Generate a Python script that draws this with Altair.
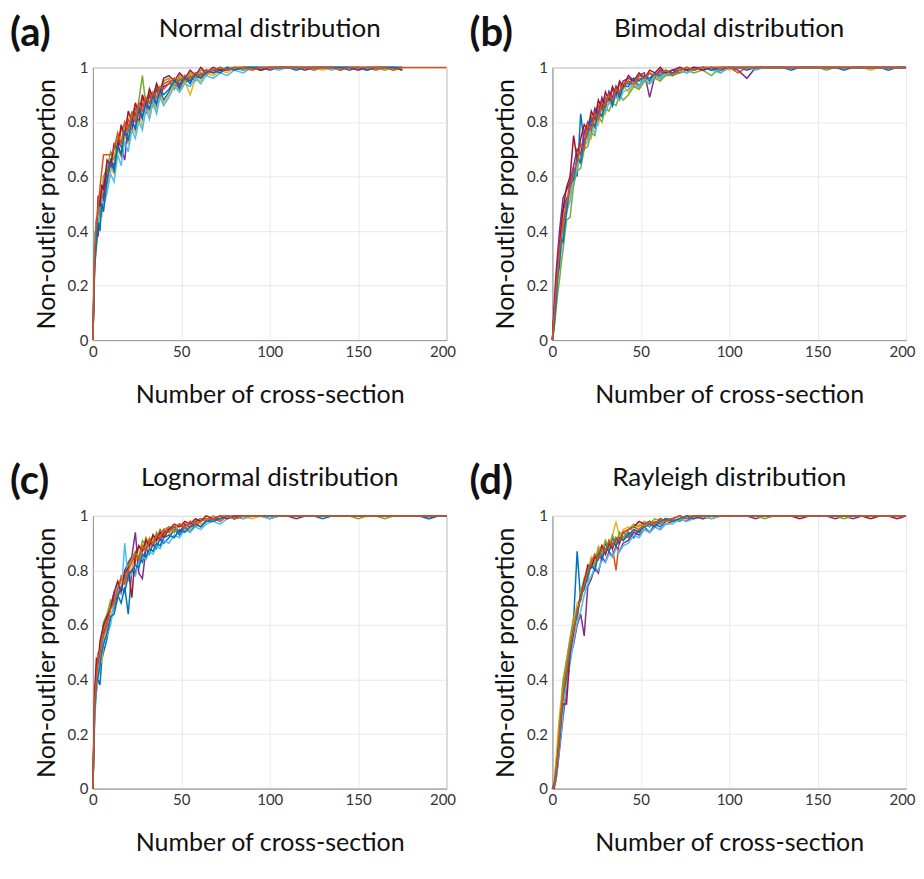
import altair as alt
import pandas as pd

N = None

# x positions (number of cross-sections) at which values were read
X = [0, 1, 2, 3, 4, 5, 6,
     8, 10, 12, 14, 16, 18, 20, 22, 24, 26, 28, 30, 32, 34, 36, 38, 40,
     43, 46, 49, 52, 55, 58, 61, 64,
     68, 72, 76, 80, 85, 90, 95, 100,
     105, 110, 115, 120, 125, 130, 135, 140, 145, 150,
     155, 160, 165, 170, 175, 180, 185, 190, 195, 200]

SERIES = ["s01", "s02", "s03", "s04", "s05", "s06", "s07", "s08", "s09"]
COLORS = ["#0072BD", "#D95319", "#EDB120", "#7E2F8E", "#77AC30",
          "#4DBEEE", "#A2142F", "#0072BD", "#D95319"]

TITLES = ["Normal distribution", "Bimodal distribution",
          "Lognormal distribution", "Rayleigh distribution"]
TAGS = ["(a)", "(b)", "(c)", "(d)"]
X_TICKS = [0, 50, 100, 150, 200]
Y_TICKS = [0, 0.2, 0.4, 0.6, 0.8, 1]

# ---------------- (a) Normal ----------------
A1 = [0, .36, .44, .41, .52, .49, .58,
      .57, .66, .63, .72, .68, .76, .73, .80, .78, .84, .81, .88, .84, .89, .86, .92, .88,
      .91, .95, .92, .96, .94, .98, .96, .99,
      .98, 1, .99, 1, .99, 1, 1, 1,
      1, 1, .99, 1, 1, 1, 1, 1, .99, 1, 1, 1, 1, 1, .99, N, N, N, N, N]
A2 = [0, .30, .38, .46, .44, .55, .53,
      .64, .62, .71, .69, .78, .74, .81, .78, .85, .82, .89, .85, .91, .87, .93, .89, .94,
      .95, .92, .96, .94, .97, .95, .98, .97,
      .99, .98, 1, .99, 1, 1, .99, 1,
      1, 1, 1, 1, .99, 1, 1, 1, 1, 1, 1, .99, 1, 1, 1, N, N, N, N, N]
A3 = [0, .28, .34, .40, .47, .45, .52,
      .55, .63, .61, .70, .67, .75, .72, .78, .76, .83, .78, .86, .83, .88, .84, .90, .87,
      .90, .94, .91, .95, .90, .96, .95, .98,
      .97, .99, .98, 1, 1, .99, 1, 1,
      1, 1, 1, 1, 1, .99, 1, 1, 1, 1, 1, 1, 1, .99, 1, N, N, N, N, N]
A4 = [0, .29, .41, .38, .50, .56, .51,
      .62, .66, .64, .73, .71, .66, .79, .77, .83, .80, .87, .83, .90, .86, .92, .89, .93,
      .94, .96, .93, .97, .95, .98, .97, .99,
      .98, .99, 1, .99, 1, 1, 1, .99,
      1, 1, 1, .99, 1, 1, 1, 1, 1, 1, .99, 1, 1, 1, 1, N, N, N, N, N]
A5 = [0, .34, .45, .43, .53, .51, .60,
      .63, .69, .66, .75, .72, .80, .76, .84, .80, .88, .97, .86, .92, .88, .94, .90, .95,
      .96, .93, .97, .95, .98, .96, .99, .98,
      .99, .98, 1, 1, .99, 1, 1, 1,
      1, 1, 1, 1, 1, 1, 1, .99, 1, 1, 1, 1, .99, 1, 1, N, N, N, N, N]
A6 = [0, .40, .37, .46, .43, .52, .49,
      .54, .61, .58, .68, .64, .73, .69, .77, .74, .80, .77, .85, .81, .87, .83, .89, .86,
      .89, .93, .91, .94, .93, .96, .94, .97,
      .96, .98, .97, .99, .98, 1, .99, 1,
      .99, 1, 1, 1, 1, 1, .99, 1, 1, 1, 1, 1, 1, 1, .99, N, N, N, N, N]
A7 = [0, .31, .39, .53, .49, .57, .55,
      .66, .64, .72, .70, .79, .75, .84, .80, .87, .83, .90, .86, .92, .89, .94, .91, .96,
      .97, .95, .98, .96, .99, .97, 1, .98,
      1, .99, .99, 1, 1, 1, .99, 1,
      1, 1, 1, 1, 1, 1, 1, 1, 1, .99, 1, 1, 1, 1, .99, N, N, N, N, N]
A8 = [0, .27, .35, .43, .40, .50, .47,
      .59, .65, .62, .71, .68, .77, .73, .81, .77, .85, .82, .87, .85, .90, .87, .92, .90,
      .92, .95, .94, .96, .95, .97, .96, .98,
      .99, .98, 1, .99, 1, 1, 1, 1,
      1, 1, 1, 1, 1, 1, 1, 1, 1, 1, .99, 1, 1, 1, 1, N, N, N, N, N]
A9 = [0, .33, .43, .49, .56, .62, .68,
      .68, .68, .70, .76, .72, .80, .77, .83, .80, .87, .84, .89, .87, .91, .89, .93, .92,
      .94, .96, .95, .97, .96, .98, .97, .99,
      .99, 1, .99, 1, 1, .99, 1, 1,
      1, 1, 1, 1, 1, 1, 1, .99, 1, 1, 1, 1, 1, .99, 1, 1, 1, 1, 1, 1]

# ---------------- (b) Bimodal ----------------
B1 = [0, .10, .21, .26, .36, .35, .47,
      .52, .54, .63, .60, .83, .72, .79, .76, .84, .81, .88, .85, .91, .87, .93, .90, .94,
      .94, .96, .93, .97, .95, .98, .96, .98,
      .98, .99, .98, 1, .99, 1, .98, 1,
      1, .99, 1, 1, 1, 1, .99, 1, 1, 1, 1, 1, 1, 1, 1, 1, 1, .99, 1, 1]
B2 = [0, .06, .15, .27, .31, .40, .40,
      .50, .58, .57, .68, .66, .77, .74, .82, .79, .86, .84, .89, .87, .92, .89, .94, .92,
      .95, .93, .96, .95, .98, .96, .99, .97,
      .98, 1, .99, .99, 1, .99, 1, 1,
      .98, 1, 1, 1, 1, 1, 1, 1, 1, 1, 1, 1, 1, 1, 1, 1, 1, 1, 1, 1]
B3 = [0, .09, .22, .23, .33, .41, .45,
      .46, .55, .58, .64, .69, .70, .77, .74, .81, .79, .86, .83, .88, .86, .91, .88, .93,
      .91, .94, .92, .95, .94, .97, .95, .98,
      .99, .98, 1, .99, 1, 1, 1, .99,
      1, 1, 1, 1, 1, 1, 1, 1, 1, 1, 1, 1, 1, 1, 1, .99, 1, 1, 1, 1]
B4 = [0, .13, .24, .32, .40, .46, .52,
      .55, .58, .64, .70, .68, .76, .80, .78, .85, .83, .89, .86, .91, .89, .93, .91, .95,
      .96, .95, .97, .98, .89, .97, .99, .98,
      .99, .98, .99, 1, 1, 1, .99, 1,
      .99, .96, 1, 1, 1, 1, 1, 1, 1, 1, 1, 1, 1, 1, 1, 1, 1, 1, 1, 1]
B5 = [0, .04, .11, .17, .22, .28, .33,
      .44, .45, .57, .62, .63, .70, .71, .76, .75, .82, .80, .85, .84, .87, .86, .90, .88,
      .90, .93, .92, .95, .94, .96, .95, .97,
      .97, .98, .99, .98, .99, .97, 1, 1,
      1, 1, 1, 1, 1, 1, 1, 1, 1, 1, .99, 1, 1, 1, 1, 1, 1, 1, 1, 1]
B6 = [0, .07, .14, .21, .29, .33, .38,
      .47, .51, .59, .63, .67, .71, .73, .78, .76, .81, .83, .84, .87, .86, .90, .88, .91,
      .92, .94, .93, .96, .94, .97, .96, .98,
      .97, .99, .98, .99, 1, .99, .98, 1,
      1, 1, .99, 1, 1, 1, 1, 1, 1, 1, 1, 1, 1, 1, 1, 1, 1, 1, 1, 1]
B7 = [0, .11, .19, .29, .34, .42, .48,
      .56, .60, .75, .66, .74, .79, .77, .84, .81, .88, .85, .91, .88, .93, .90, .95, .93,
      .97, .95, .98, .96, .99, .98, 1, .98,
      .99, 1, .99, 1, .99, 1, 1, 1,
      1, 1, 1, 1, 1, 1, 1, 1, 1, 1, 1, 1, 1, 1, 1, 1, 1, 1, 1, 1]
B8 = [0, .05, .13, .24, .27, .37, .36,
      .47, .57, .59, .67, .65, .73, .76, .81, .78, .84, .82, .87, .90, .86, .92, .89, .93,
      .93, .96, .95, .97, .96, .98, .97, .99,
      .98, .99, 1, .99, 1, .99, 1, 1,
      1, 1, 1, 1, 1, 1, 1, 1, 1, 1, 1, 1, .99, 1, 1, 1, 1, 1, 1, 1]
B9 = [0, .09, .18, .26, .33, .38, .43,
      .50, .56, .62, .65, .72, .70, .79, .77, .83, .81, .87, .86, .90, .88, .92, .91, .94,
      .95, .94, .97, .96, .98, .97, .98, .99,
      .97, .99, 1, .99, 1, 1, 1, 1,
      1, 1, 1, 1, 1, 1, 1, 1, 1, 1, 1, 1, 1, 1, 1, 1, 1, 1, 1, 1]

# ---------------- (c) Lognormal ----------------
C1 = [0, .28, .36, .40, .38, .47, .50,
      .55, .63, .66, .71, .68, .74, .64, .80, .79, .85, .83, .88, .86, .90, .88, .92, .90,
      .92, .95, .93, .96, .94, .97, .96, .98,
      .98, .99, 1, .99, 1, 1, 1, .99,
      1, 1, 1, 1, 1, .99, 1, 1, 1, 1, 1, 1, 1, 1, 1, 1, 1, .99, 1, 1]
C2 = [0, .34, .45, .50, .48, .56, .59,
      .63, .67, .72, .71, .78, .77, .82, .85, .83, .89, .87, .92, .89, .93, .91, .95, .93,
      .96, .94, .97, .95, .98, .96, .98, .99,
      .99, .98, 1, 1, .99, 1, 1, 1,
      1, 1, 1, 1, 1, 1, 1, 1, 1, 1, 1, 1, 1, 1, 1, 1, 1, 1, 1, 1]
C3 = [0, .31, .35, .44, .49, .46, .53,
      .59, .62, .69, .73, .72, .79, .78, .81, .85, .83, .87, .90, .88, .92, .90, .94, .92,
      .93, .96, .94, .97, .95, .98, .97, .98,
      .99, 1, .99, 1, 1, .99, 1, 1,
      1, 1, 1, 1, 1, 1, 1, 1, 1, 1, 1, 1, 1, 1, 1, 1, 1, 1, 1, 1]
C4 = [0, .33, .42, .47, .52, .51, .57,
      .61, .66, .70, .74, .73, .80, .83, .85, .94, .79, .77, .88, .91, .89, .93, .91, .94,
      .95, .96, .94, .97, .96, .98, .99, .98,
      .99, .99, 1, .99, 1, 1, 1, 1,
      1, 1, .99, 1, 1, 1, 1, 1, 1, 1, 1, 1, 1, 1, 1, 1, 1, 1, 1, 1]
C5 = [0, .30, .43, .46, .51, .55, .61,
      .64, .69, .67, .75, .77, .76, .81, .84, .87, .85, .91, .89, .92, .90, .94, .92, .95,
      .96, .94, .97, .96, .98, .97, .99, .98,
      1, .99, 1, .99, 1, 1, 1, 1,
      1, 1, 1, 1, 1, 1, 1, 1, 1, .99, 1, 1, .99, 1, 1, 1, 1, 1, 1, 1]
C6 = [0, .25, .37, .43, .47, .52, .55,
      .56, .60, .68, .75, .71, .90, .76, .79, .78, .83, .85, .84, .87, .86, .89, .88, .91,
      .90, .93, .92, .95, .94, .96, .95, .97,
      .98, .97, .99, 1, .99, 1, 1, .99,
      1, 1, 1, 1, 1, 1, 1, 1, 1, 1, 1, 1, 1, 1, 1, 1, 1, 1, 1, 1]
C7 = [0, .35, .48, .46, .54, .57, .60,
      .63, .66, .72, .76, .72, .79, .81, .70, .86, .89, .87, .91, .89, .93, .91, .94, .92,
      .95, .97, .96, .98, .97, .99, .98, 1,
      .99, 1, .99, 1, 1, 1, 1, 1,
      1, 1, 1, 1, 1, 1, 1, 1, 1, 1, 1, 1, 1, 1, 1, 1, 1, 1, 1, 1]
C8 = [0, .29, .39, .41, .45, .50, .53,
      .57, .63, .64, .70, .74, .72, .78, .80, .82, .81, .86, .85, .88, .87, .90, .89, .92,
      .93, .92, .95, .94, .96, .97, .96, .98,
      .98, .99, 1, .99, 1, 1, 1, 1,
      1, 1, 1, 1, 1, 1, 1, 1, 1, 1, 1, 1, 1, 1, 1, 1, 1, .99, 1, 1]
C9 = [0, .32, .40, .48, .50, .54, .56,
      .60, .66, .68, .73, .77, .75, .80, .83, .86, .84, .89, .87, .91, .90, .93, .92, .95,
      .94, .96, .97, .96, .98, .97, .98, .99,
      .99, 1, 1, .99, 1, 1, 1, 1,
      1, 1, 1, 1, 1, 1, 1, 1, 1, 1, 1, 1, 1, 1, 1, 1, 1, 1, 1, 1]

# ---------------- (d) Rayleigh ----------------
D1 = [0, .01, .06, .13, .21, .24, .36,
      .45, .49, .62, .87, .69, .76, .79, .84, .82, .88, .85, .90, .87, .92, .89, .93, .91,
      .94, .92, .95, .96, .94, .97, .96, .98,
      .99, .98, 1, .99, 1, 1, 1, 1,
      1, 1, 1, 1, 1, 1, 1, 1, 1, 1, 1, 1, 1, 1, 1, 1, 1, 1, 1, 1]
D2 = [0, .02, .08, .15, .22, .31, .35,
      .44, .53, .60, .63, .72, .74, .81, .83, .80, .87, .89, .86, .91, .88, .80, .92, .94,
      .92, .95, .94, .97, .96, .98, .97, .99,
      .98, .99, 1, 1, .99, 1, 1, 1,
      1, 1, 1, 1, 1, 1, 1, 1, 1, 1, 1, 1, 1, 1, 1, 1, 1, 1, 1, 1]
D3 = [0, .03, .10, .19, .27, .33, .40,
      .47, .55, .61, .68, .70, .77, .80, .85, .83, .89, .87, .91, .89, .93, .98, .92, .95,
      .96, .94, .97, .96, .98, .97, .99, .98,
      .98, .99, 1, .99, 1, 1, 1, 1,
      1, 1, 1, 1, 1, 1, 1, 1, 1, 1, 1, 1, 1, 1, 1, 1, 1, 1, 1, 1]
D4 = [0, .00, .03, .08, .14, .20, .26,
      .36, .48, .53, .60, .64, .56, .74, .77, .81, .79, .85, .83, .87, .85, .89, .87, .90,
      .91, .94, .93, .95, .94, .96, .95, .97,
      .98, .99, .98, 1, .99, 1, 1, 1,
      1, 1, .99, 1, 1, 1, 1, 1, 1, 1, 1, .99, 1, .99, 1, 1, 1, 1, 1, 1]
D5 = [0, .02, .07, .14, .24, .30, .39,
      .47, .55, .63, .62, .72, .77, .76, .84, .82, .88, .86, .91, .88, .93, .90, .94, .92,
      .95, .97, .96, .98, .97, .99, .98, .99,
      .99, .98, 1, 1, 1, .99, 1, 1,
      1, 1, 1, .99, 1, 1, 1, 1, 1, 1, 1, 1, .99, 1, 1, 1, 1, 1, 1, 1]
D6 = [0, .01, .03, .09, .15, .21, .28,
      .38, .46, .54, .61, .65, .71, .75, .78, .81, .80, .84, .83, .86, .85, .88, .87, .89,
      .90, .93, .92, .95, .94, .96, .95, .97,
      .97, .99, .98, .99, 1, .99, 1, 1,
      1, 1, 1, 1, 1, 1, 1, 1, 1, 1, 1, 1, 1, 1, 1, 1, 1, 1, 1, 1]
D7 = [0, .01, .05, .12, .19, .27, .31,
      .31, .50, .57, .65, .70, .76, .82, .81, .85, .84, .89, .86, .90, .88, .92, .90, .94,
      .95, .96, .98, .97, .98, .97, .99, .98,
      .99, 1, .99, 1, 1, 1, 1, 1,
      1, 1, 1, 1, 1, 1, 1, .99, 1, 1, 1, 1, 1, 1, 1, .99, 1, 1, .99, 1]
D8 = [0, .02, .04, .11, .17, .26, .33,
      .41, .50, .59, .64, .71, .73, .78, .82, .80, .86, .84, .88, .87, .90, .89, .92, .91,
      .93, .95, .94, .96, .97, .96, .98, .99,
      .98, .99, 1, .99, 1, 1, 1, 1,
      1, 1, 1, 1, 1, 1, 1, 1, 1, 1, 1, 1, 1, 1, 1, 1, 1, 1, 1, 1]
D9 = [0, .01, .06, .12, .20, .28, .34,
      .43, .52, .58, .66, .69, .75, .80, .83, .86, .84, .88, .87, .91, .89, .92, .91, .94,
      .95, .96, .95, .97, .98, .97, .99, .98,
      .99, 1, .99, 1, 1, 1, 1, 1,
      1, 1, 1, 1, 1, 1, 1, 1, 1, 1, 1, 1, 1, 1, 1, 1, 1, 1, 1, 1]

PANELS = [
    [A1, A2, A3, A4, A5, A6, A7, A8, A9],
    [B1, B2, B3, B4, B5, B6, B7, B8, B9],
    [C1, C2, C3, C4, C5, C6, C7, C8, C9],
    [D1, D2, D3, D4, D5, D6, D7, D8, D9],
]

FONT = "Lato"
FRAME = "#9a9a9a"
W, H = 354, 273


def make_panel(tag, title, series_list):
    rows = []
    for name, ys in zip(SERIES, series_list):
        assert len(ys) == len(X), (tag, name, len(ys))
        for xv, yv in zip(X, ys):
            rows.append({"x": xv, "y": yv, "series": name})
    df = pd.DataFrame(rows)

    lines = alt.Chart(df).mark_line(strokeWidth=1.5).encode(
        x=alt.X("x:Q",
                scale=alt.Scale(domain=[0, 200], nice=False, zero=False),
                axis=alt.Axis(values=X_TICKS, title="Number of cross-section",
                              grid=True, gridColor="#e8e8e8", ticks=False,
                              labelFlush=False,
                              labelOffset={"condition": {"test": "datum.value >= 200",
                                                         "value": -4},
                                           "value": 0},
                              domainColor=FRAME, labelFont=FONT, labelFontSize=15,
                              labelColor="#333333", labelPadding=4,
                              titleFont=FONT, titleFontSize=25,
                              titleFontWeight="normal", titleColor="#111111",
                              titlePadding=23)),
        y=alt.Y("y:Q",
                scale=alt.Scale(domain=[0, 1], nice=False),
                axis=alt.Axis(values=Y_TICKS, format="~g",
                              title="Non-outlier proportion",
                              grid=True, gridColor="#e8e8e8", ticks=False,
                              labelFlush=False,
                              domainColor=FRAME, labelFont=FONT, labelFontSize=15,
                              labelColor="#333333", labelPadding=5,
                              titleFont=FONT, titleFontSize=25,
                              titleFontWeight="normal", titleColor="#111111",
                              titlePadding=8)),
        color=alt.Color("series:N", scale=alt.Scale(domain=SERIES, range=COLORS),
                        legend=None),
    )

    label_df = pd.DataFrame({"tag": [tag], "title": [title]})
    tag_layer = alt.Chart(label_df).mark_text(
        align="left", baseline="middle", font=FONT, fontSize=40,
        fontWeight="bold", color="#111111"
    ).encode(text="tag:N", x=alt.value(-83), y=alt.value(-33.5))

    title_layer = alt.Chart(label_df).mark_text(
        align="center", baseline="alphabetic", font=FONT, fontSize=26,
        fontWeight="normal", color="#111111"
    ).encode(text="title:N", x=alt.value(W / 2), y=alt.value(-30))

    return alt.layer(lines, tag_layer, title_layer).properties(width=W, height=H)


charts = [make_panel(t, ti, s) for t, ti, s in zip(TAGS, TITLES, PANELS)]

chart = alt.concat(
    *charts, columns=2, spacing={"row": 176, "column": 106}, bounds="flush"
).properties(
    padding={"left": 1, "top": 5, "right": 0, "bottom": 5}
).configure_view(stroke=FRAME, strokeWidth=1)

chart.save("out.html", embed_options={"renderer": "svg", "actions": False})
